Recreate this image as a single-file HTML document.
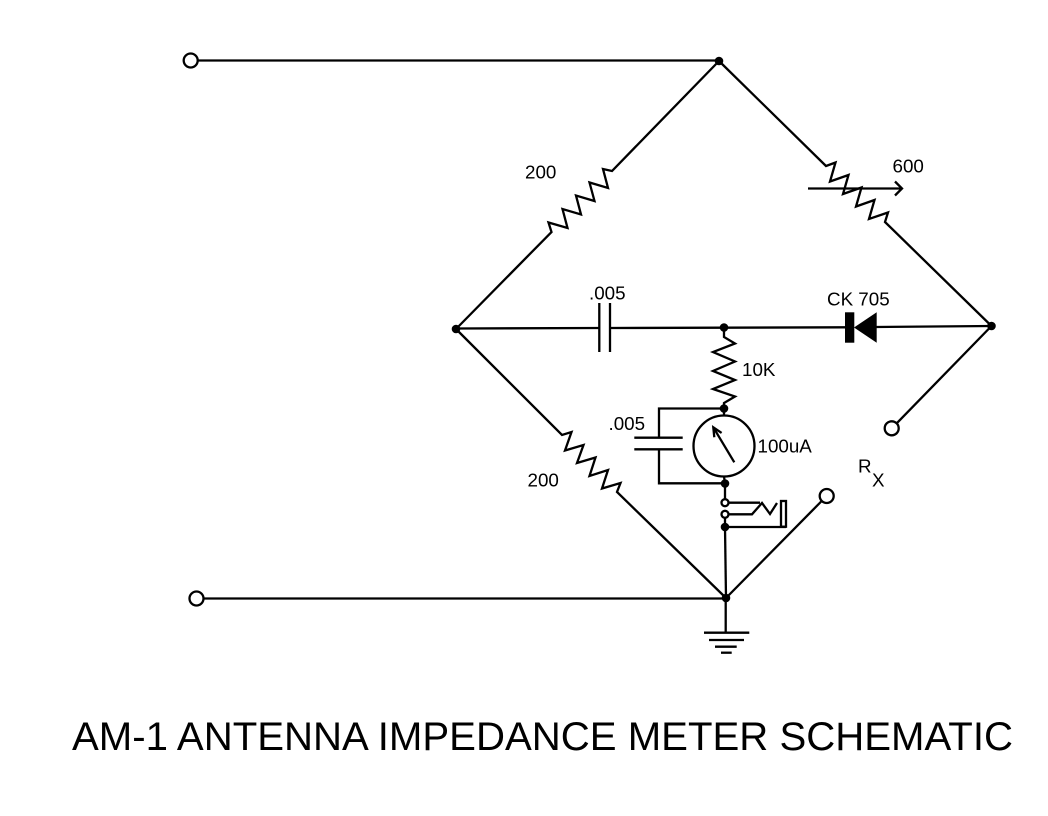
<!DOCTYPE html>
<html>
<head>
<meta charset="utf-8">
<style>
  html,body{margin:0;padding:0;background:#fff;}
  svg{display:block;}
  text{font-family:"Liberation Sans",Arial,sans-serif;fill:#000;}
</style>
</head>
<body>
<svg width="1048" height="816" viewBox="0 0 1048 816" xmlns="http://www.w3.org/2000/svg">
  <rect width="1048" height="816" fill="#fff"/>
  <g stroke="#000" stroke-width="2.3" fill="none" stroke-linejoin="miter" stroke-linecap="butt">
    <!-- top input line -->
    <line x1="197.7" y1="60.5" x2="719" y2="60.5"/>
    <!-- bottom input line -->
    <line x1="203.5" y1="598.5" x2="726" y2="598.5"/>

    <!-- upper-left 200 resistor branch -->
    <polyline points="456,329 551.5,232 548.5,222.5 567.5,228 562.5,209 581,214.5 576,195.5 594.5,201 589.5,182.5 608,188 603,169 612,171 719,61"/>

    <!-- upper-right 600 pot branch -->
    <polyline points="719,61 826,166 835.5,162.5 830,181.5 848.5,175 843,194 861.5,187.5 856,206.5 874.5,200 869,219 888,212.5 885,222 991.5,326"/>
    <!-- pot wiper arrow -->
    <line x1="808" y1="188.5" x2="902" y2="188.5"/>
    <polyline points="895,181.5 902,188.5 895,195.5"/>

    <!-- lower-left 200 resistor branch -->
    <polyline points="456,329 562,435 571.5,432 565,450.5 583.5,445 577,463 595.5,457.5 589.5,476 608,470 602,488.5 620.5,483 617,492 726,598"/>

    <!-- middle line: left node to capacitor -->
    <line x1="456" y1="328.5" x2="599.3" y2="328"/>
    <line x1="599.3" y1="303" x2="599.3" y2="352"/>
    <line x1="610" y1="303" x2="610" y2="352"/>
    <line x1="610" y1="328" x2="845" y2="327.3"/>
    <line x1="876" y1="327" x2="991.5" y2="326"/>

    <!-- right node to Rx terminal -->
    <line x1="991.5" y1="326" x2="896.7" y2="423.3"/>
    <!-- bottom node to right-bottom terminal -->
    <line x1="726" y1="598" x2="821.7" y2="501"/>

    <!-- 10K resistor -->
    <polyline points="724,327.5 724,337 735,343.5 713,352 735,361.5 713,371 735,380 713,389 735,396.5 724,403 724,416"/>

    <!-- meter -->
    <circle cx="724" cy="446" r="30.5"/>
    <line x1="734.3" y1="462.3" x2="713.3" y2="427.3"/>
    <polyline points="714.3,437.2 713.3,427.3 721.6,432.9"/>
    <line x1="724" y1="476.5" x2="725" y2="483.5"/>

    <!-- bypass capacitor -->
    <polyline points="724,408.5 659,408.5 659,437.7"/>
    <line x1="634.3" y1="437.7" x2="682.7" y2="437.7"/>
    <line x1="634.3" y1="449.3" x2="682.7" y2="449.3"/>
    <polyline points="659,449.3 659,483.3 725,483.3"/>

    <!-- jack -->
    <line x1="725" y1="483.5" x2="725" y2="499.2"/>
    <line x1="728.5" y1="502.7" x2="760" y2="502.7"/>
    <polyline points="728.5,514.3 752,514.3 762,503 770,514 777,503"/>
    <rect x="781" y="501" width="5" height="25.7" fill="#fff"/>
    <line x1="725" y1="517.8" x2="725" y2="527"/>
    <line x1="725" y1="527" x2="786" y2="527"/>
    <line x1="725" y1="527" x2="726" y2="598"/>

    <!-- ground -->
    <line x1="725.7" y1="598" x2="725.7" y2="632.7"/>
    <line x1="704" y1="632.7" x2="749.3" y2="632.7"/>
    <line x1="709" y1="640" x2="744" y2="640"/>
    <line x1="715" y1="646.7" x2="736.7" y2="646.7"/>
    <line x1="721" y1="652.7" x2="731.7" y2="652.7"/>

    <!-- terminals (open circles) -->
    <circle cx="190.7" cy="60.5" r="7" fill="#fff"/>
    <circle cx="196.5" cy="598.5" r="7" fill="#fff"/>
    <circle cx="891.7" cy="428.3" r="7" fill="#fff"/>
    <circle cx="826.7" cy="496" r="7" fill="#fff"/>
    <circle cx="725" cy="502.7" r="3.5" fill="#fff"/>
    <circle cx="725" cy="514.3" r="3.5" fill="#fff"/>
  </g>

  <!-- diode -->
  <rect x="845" y="312.3" width="9.3" height="30.4" fill="#000"/>
  <polygon points="854,327.5 876.7,312.3 876.7,342.7" fill="#000"/>

  <!-- junction dots -->
  <g fill="#000">
    <circle cx="719" cy="61" r="4.3"/>
    <circle cx="456" cy="329" r="4.3"/>
    <circle cx="991.5" cy="326" r="4.3"/>
    <circle cx="726" cy="598" r="4.3"/>
    <circle cx="724" cy="327.5" r="4.3"/>
    <circle cx="724" cy="408.5" r="4.3"/>
    <circle cx="725" cy="483.5" r="4.3"/>
    <circle cx="725" cy="527" r="4.3"/>
  </g>

  <!-- labels -->
  <g font-size="18.8">
    <text x="525" y="178.5">200</text>
    <text x="892.5" y="172.7">600</text>
    <text x="589" y="299.3">.005</text>
    <text x="827" y="305.7">CK 705</text>
    <text x="742" y="376">10K</text>
    <text x="608.5" y="430">.005</text>
    <text x="757.5" y="452.3">100uA</text>
    <text x="527.5" y="486.7">200</text>
    <text x="858" y="472.7">R</text>
    <text x="872" y="486.7">X</text>
  </g>

  <text x="72" y="750" font-size="40" textLength="941" lengthAdjust="spacingAndGlyphs">AM-1 ANTENNA IMPEDANCE METER SCHEMATIC</text>
</svg>
</body>
</html>
